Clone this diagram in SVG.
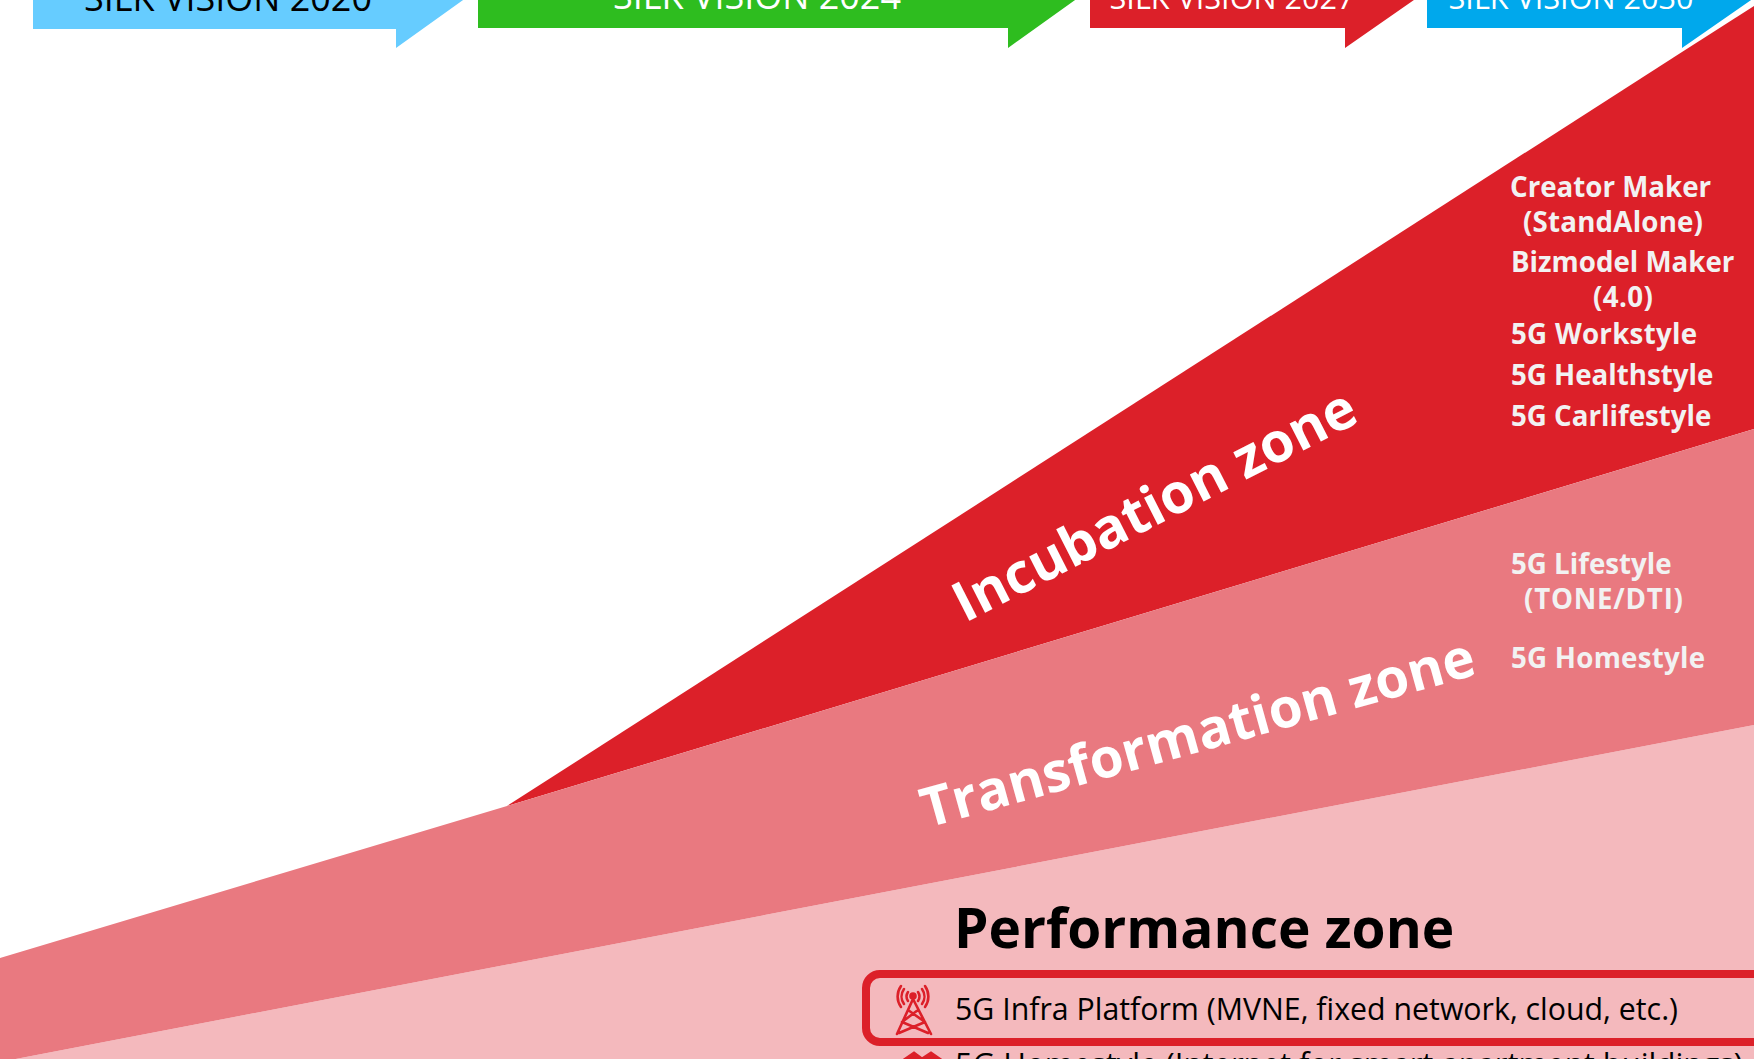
<svg xmlns="http://www.w3.org/2000/svg" width="1754" height="1059" viewBox="0 0 1754 1059">
<style>
text{font-family:"Open Sans","Noto Sans","Liberation Sans",sans-serif}
.ban{font-size:36px}
.ban2{font-size:30.6px}
.lbl{font-size:27.7px;font-weight:700;fill:#f2f2f2}
.zone{font-weight:700;fill:#fff}
.perf{font-weight:700;fill:#000;font-size:55px}
.row{font-size:30.3px;fill:#000}
.ic{fill:none;stroke:#dc2029;stroke-width:2.6;stroke-linecap:round}
</style>
<rect width="1754" height="1059" fill="#fff"/>
<g id="banner-2020"><path d="M33 -30H505L396 48V29H33Z" fill="#66ccff"/><text class="ban" x="228" y="11" text-anchor="middle" fill="#000">SILK VISION 2020</text></g>
<g id="banner-2024"><path d="M478 -30H1117L1008 48V28H478Z" fill="#2ebd1f"/><text class="ban" x="757" y="9" text-anchor="middle" fill="#fff">SILK VISION 2024</text></g>
<g id="banner-2027"><path d="M1090 -30H1457L1345 48V28H1090Z" fill="#dc2029"/><text class="ban2" x="1232" y="9" text-anchor="middle" fill="#fff">SILK VISION 2027</text></g>
<g id="banner-2030"><path d="M1427 -30H1754V-2L1682 48V28H1427Z" fill="#00a8ec"/><text class="ban2" x="1571" y="9" text-anchor="middle" fill="#fff">SILK VISION 2030</text></g>
<g id="zone-performance"><path d="M0 1062L1754 725V1059H0Z" fill="#f4b9bd"/><text class="perf" x="954" y="948">Performance zone</text></g>
<g id="zone-incubation"><path d="M507 806L1682 52L1754 6V429Z" fill="#dc2029"/><text class="zone" style="font-size:55.4px" transform="translate(965 623) rotate(-27)">Incubation zone</text></g>
<g id="zone-transformation"><path d="M0 958L507 806L1754 429V725L0 1062Z" fill="#e97980"/><text class="zone" style="font-size:54.7px" transform="translate(927 828) rotate(-15.6)">Transformation zone</text></g>
<g id="labels-incubation">
<text class="lbl" x="1510" y="197">Creator Maker</text>
<text class="lbl" x="1523" y="232" textLength="180">(StandAlone)</text>
<text class="lbl" x="1511" y="272">Bizmodel Maker</text>
<text class="lbl" x="1593" y="307" textLength="60">(4.0)</text>
<text class="lbl" x="1511" y="344" textLength="186">5G Workstyle</text>
<text class="lbl" x="1511" y="385">5G Healthstyle</text>
<text class="lbl" x="1511" y="426">5G Carlifestyle</text>
</g>
<g id="labels-transformation">
<text class="lbl" x="1511" y="574">5G Lifestyle</text>
<text class="lbl" x="1524" y="609" textLength="159">(TONE/DTI)</text>
<text class="lbl" x="1511" y="668" textLength="194">5G Homestyle</text>
</g>
<g id="row-infra">
<rect x="866" y="974" width="920" height="68" rx="14" fill="none" stroke="#dc2029" stroke-width="8"/>
<g class="ic"><path d="M913 999L897 1034M913 999L931 1034M908 1010L925 1022M918 1010L902 1022M902 1022L928 1033M925 1022L899 1033"/><circle cx="913" cy="996" r="2.5" fill="#dc2029"/><path d="M908 992a8 8 0 0 0 0 9M918 992a8 8 0 0 1 0 9M904 989a13 13 0 0 0 0 15M922 989a13 13 0 0 1 0 15M901 986a18 18 0 0 0 0 21M925 986a18 18 0 0 1 0 21"/></g>
<text class="row" x="955" y="1020">5G Infra Platform (MVNE, fixed network, cloud, etc.)</text>
</g>
<g id="row-homestyle">
<path d="M904 1060L914 1053L922 1059L931 1053L941 1060Z" fill="#dc2029" stroke="#dc2029" stroke-width="3"/>
<text class="row" style="font-size:31px" x="955" y="1075" textLength="788">5G Homestyle (Internet for smart apartment buildings)</text>
</g>
</svg>
